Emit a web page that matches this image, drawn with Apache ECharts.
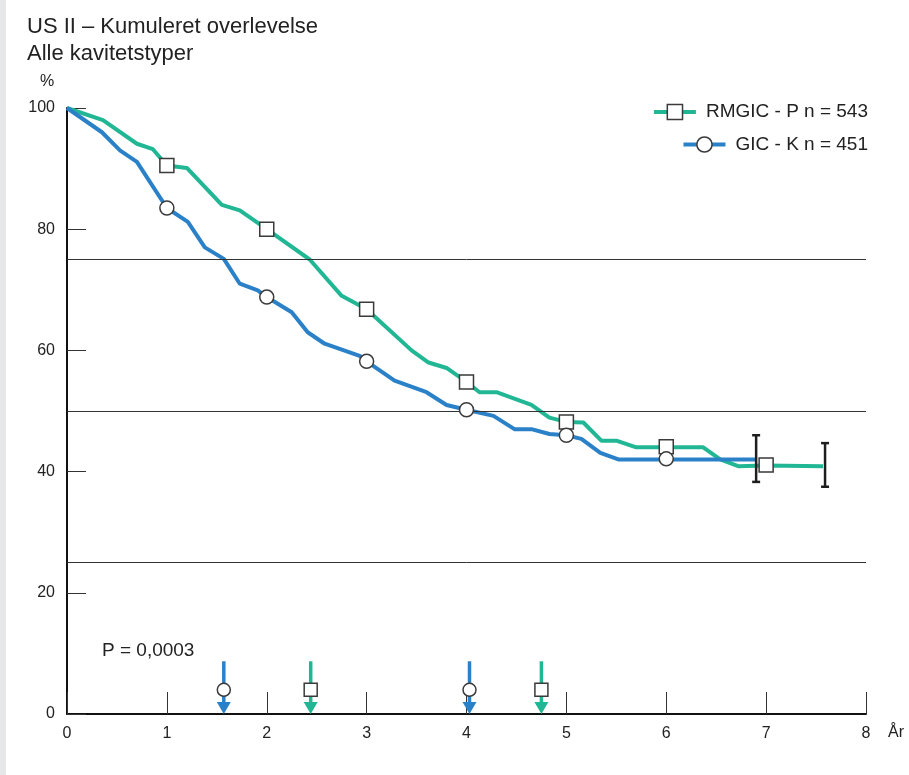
<!DOCTYPE html>
<html>
<head>
<meta charset="utf-8">
<script src="https://cdn.jsdelivr.net/npm/echarts@6/dist/echarts.min.js"></script>
<style>
html,body{margin:0;padding:0;background:#fff;}
#chart{width:909px;height:775px;}
</style>
</head>
<body>
<div id="chart"></div>
<script>
// ---- Data ----
const xTicks = [0, 1, 2, 3, 4, 5, 6, 7, 8];
const yTicks = [0, 20, 40, 60, 80, 100];
const refLines = [75, 50, 25];

const rmgicName = 'RMGIC - P n = 543';
const gicName = 'GIC - K n = 451';

const rmgicCurve = [[0,100],[0.36,98.0],[0.70,94.1],[0.86,93.2],[1.0,90.5],[1.2,90.1],[1.55,84.0],[1.73,83.1],[2.0,80.0],[2.43,75.0],[2.75,69.0],[3.0,66.8],[3.45,60.0],[3.62,58.0],[3.80,57.1],[4.0,54.8],[4.13,53.1],[4.30,53.1],[4.65,51.0],[4.83,48.9],[5.0,48.2],[5.17,48.1],[5.35,45.1],[5.50,45.1],[5.70,44.0],[6.0,44.0],[6.37,44.0],[6.54,42.0],[6.72,40.9],[7.0,41.0],[7.57,40.9]];
const rmgicMarkers = [[1,90.5],[2,80.0],[3,66.8],[4,54.8],[5,48.2],[6,44.1],[7,41.1]];
const rmgicCI = [[7.59, 37.5, 44.7]];

const gicCurve = [[0,100],[0.35,96.0],[0.53,93.0],[0.70,91.1],[1.0,83.5],[1.21,81.2],[1.38,77.0],[1.57,75.1],[1.73,71.0],[1.91,69.9],[2.0,68.8],[2.25,66.3],[2.41,63.0],[2.58,61.1],[2.93,59.1],[3.0,58.2],[3.28,55.0],[3.60,53.1],[3.80,51.0],[4.0,50.2],[4.27,49.2],[4.48,47.0],[4.65,47.0],[4.83,46.2],[5.0,46.0],[5.15,45.4],[5.34,43.1],[5.52,42.0],[6.0,42.0],[6.90,42.0]];
const gicMarkers = [[1,83.5],[2,68.8],[3,58.2],[4,50.2],[5,46.0],[6,42.1]];
const gicCI = [[6.90, 38.3, 46.0]];

// quantile arrows: [x, top of arrow, marker level]
const gicArrows = [[1.57, 8.7, 4.0],[4.03, 8.7, 4.0]];
const rmgicArrows = [[2.44, 8.7, 4.0],[4.75, 8.7, 4.0]];

const pText = 'P = 0,0003';

// ---- Styles ----
const GREEN = '#22b794';
const BLUE = '#2a81c8';
const MARK_BORDER = '#3a3a3a';
const FONT = '"Liberation Sans", Arial, Helvetica, sans-serif';
const markStyle = { color: '#fff', borderColor: MARK_BORDER, borderWidth: 1.5, opacity: 1 };

function arrowRender(color) {
  return function (params, api) {
    const x = api.value(0);
    const top = api.coord([x, api.value(1)]);
    const bot = api.coord([x, 0]);
    const headH = 12, headW = 7;
    return {
      type: 'group',
      children: [
        { type: 'line', shape: { x1: top[0], y1: top[1], x2: bot[0], y2: bot[1] - headH + 1 },
          style: { stroke: color, lineWidth: 3.5 } },
        { type: 'polygon', shape: { points: [[bot[0] - headW, bot[1] - headH], [bot[0] + headW, bot[1] - headH], [bot[0], bot[1]]] },
          style: { fill: color } }
      ]
    };
  };
}

function errRender(params, api) {
  const x = api.value(0);
  const lo = api.coord([x, api.value(1)]);
  const hi = api.coord([x, api.value(2)]);
  const cw = 4;
  const st = { stroke: '#1e1e1e', lineWidth: 2.5 };
  return {
    type: 'group',
    children: [
      { type: 'line', shape: { x1: lo[0], y1: lo[1], x2: hi[0], y2: hi[1] }, style: st },
      { type: 'line', shape: { x1: lo[0] - cw, y1: lo[1], x2: lo[0] + cw, y2: lo[1] }, style: st },
      { type: 'line', shape: { x1: hi[0] - cw, y1: hi[1], x2: hi[0] + cw, y2: hi[1] }, style: st }
    ]
  };
}

const chart = echarts.init(document.getElementById('chart'), null, { renderer: 'canvas' });

const legendBase = {
  right: 36, itemWidth: 42, itemHeight: 19, itemGap: 0,
  textStyle: { fontFamily: FONT, fontSize: 19, color: '#222', padding: [0, 0, 0, 5] },
  lineStyle: { width: 4 },
  itemStyle: { borderWidth: 1.5, borderColor: MARK_BORDER, color: '#fff' },
  selectedMode: false
};

const option = {
  animation: false,
  backgroundColor: '#fff',
  textStyle: { fontFamily: FONT },
  title: {
    text: 'US II – Kumuleret overlevelse\nAlle kavitetstyper',
    left: 22, top: 8,
    textStyle: { fontFamily: FONT, fontSize: 22, fontWeight: 'normal', color: '#222', lineHeight: 27 }
  },
  legend: [
    Object.assign({}, legendBase, { data: [rmgicName], top: 97.5 }),
    Object.assign({}, legendBase, { data: [gicName], top: 130 })
  ],
  grid: { left: 67, right: 43, top: 108, bottom: 61, containLabel: false },
  xAxis: {
    type: 'value', min: xTicks[0], max: xTicks[xTicks.length - 1], interval: 1,
    name: 'År', nameLocation: 'end', nameGap: 22,
    nameTextStyle: { fontFamily: FONT, fontSize: 16, color: '#222', verticalAlign: 'top', padding: [11, 0, 0, 0] },
    axisLine: { show: true, onZero: false, lineStyle: { color: '#111', width: 2 } },
    axisTick: { show: true, inside: true, length: 22, lineStyle: { color: '#333', width: 1 } },
    axisLabel: { fontFamily: FONT, fontSize: 16, color: '#222', margin: 12 },
    splitLine: { show: false }
  },
  yAxis: {
    type: 'value', min: yTicks[0], max: yTicks[yTicks.length - 1], interval: 20,
    axisLine: { show: true, lineStyle: { color: '#111', width: 2 } },
    axisTick: { show: true, inside: true, length: 19, lineStyle: { color: '#333', width: 1 } },
    axisLabel: { fontFamily: FONT, fontSize: 16, color: '#222', margin: 12 },
    splitLine: { show: false }
  },
  graphic: [
    { type: 'rect', left: 0, top: 0, shape: { width: 6, height: 775 }, style: { fill: '#e6e7e9' }, silent: true },
    { type: 'text', left: 40, top: 74, style: { text: '%', fontFamily: FONT, fontSize: 16, fill: '#222' } },
    { type: 'text', left: 102, top: 641, style: { text: pText, fontFamily: FONT, fontSize: 19, fill: '#222' } }
  ],
  series: [
    {
      name: rmgicName, type: 'line', data: rmgicCurve, z: 3,
      symbol: 'rect', symbolSize: 14, showSymbol: false,
      lineStyle: { color: GREEN, width: 4 },
      itemStyle: markStyle,
      emphasis: { disabled: true },
      markLine: {
        silent: true, symbol: ['none', 'none'], label: { show: false },
        lineStyle: { color: '#333', width: 1, type: 'solid' },
        data: refLines.map(v => ({ yAxis: v }))
      }
    },
    {
      name: gicName, type: 'line', data: gicCurve, z: 3,
      symbol: 'circle', symbolSize: 14, showSymbol: false,
      lineStyle: { color: BLUE, width: 4 },
      itemStyle: markStyle,
      emphasis: { disabled: true }
    },
    {
      name: 'rmgicMarkers', type: 'scatter', data: rmgicMarkers, z: 5,
      symbol: 'rect', symbolSize: 14, itemStyle: markStyle, emphasis: { disabled: true }
    },
    {
      name: 'gicMarkers', type: 'scatter', data: gicMarkers, z: 5,
      symbol: 'circle', symbolSize: 14, itemStyle: markStyle, emphasis: { disabled: true }
    },
    { name: 'gicArrows', type: 'custom', data: gicArrows, renderItem: arrowRender(BLUE), z: 4, silent: true },
    { name: 'rmgicArrows', type: 'custom', data: rmgicArrows, renderItem: arrowRender(GREEN), z: 4, silent: true },
    {
      name: 'gicArrowMarks', type: 'scatter', data: gicArrows.map(a => [a[0], a[2]]), z: 6,
      symbol: 'circle', symbolSize: 13, itemStyle: markStyle, emphasis: { disabled: true }
    },
    {
      name: 'rmgicArrowMarks', type: 'scatter', data: rmgicArrows.map(a => [a[0], a[2]]), z: 6,
      symbol: 'rect', symbolSize: 13, itemStyle: markStyle, emphasis: { disabled: true }
    },
    { name: 'rmgicCI', type: 'custom', data: rmgicCI, renderItem: errRender, z: 7, silent: true },
    { name: 'gicCI', type: 'custom', data: gicCI, renderItem: errRender, z: 7, silent: true }
  ]
};

chart.setOption(option);
</script>
</body>
</html>
